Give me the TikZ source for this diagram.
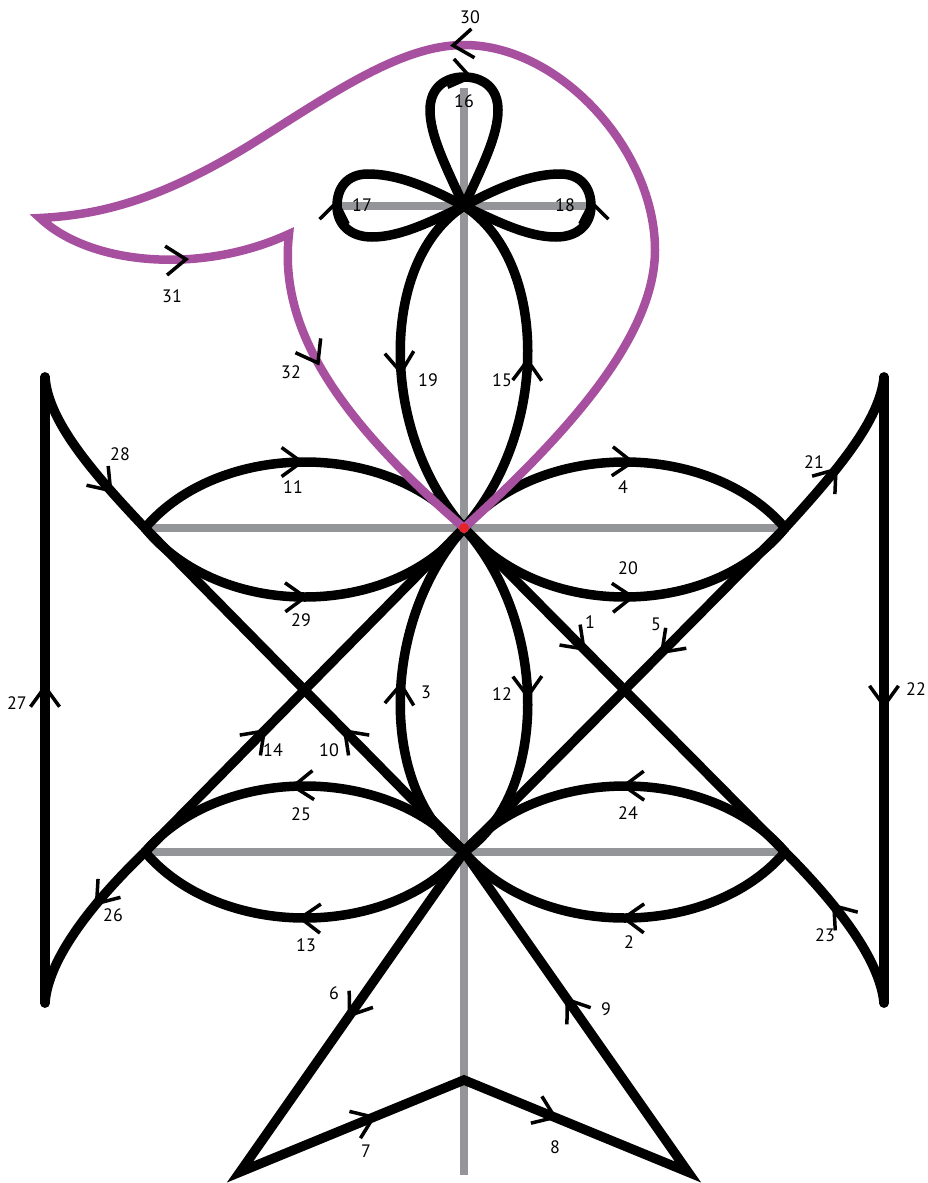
\documentclass[tikz,border=0pt]{standalone}
\usepackage{fontspec}
\setmainfont{PT Sans}
\usetikzlibrary{arrows.meta,decorations.markings}
\definecolor{axisgray}{RGB}{147,149,152}
\definecolor{loopviolet}{RGB}{167,80,160}
\definecolor{dotred}{RGB}{230,35,40}
\tikzset{
    pathline/.style={
        draw,line width=9.5pt,line cap=round,line join=miter
    },
    axisline/.style={
        draw=axisgray,line width=8pt
    },
    violetline/.style={
        draw=loopviolet,line width=8.5pt,line join=miter
    },
    flow/.style={
        postaction={decorate,decoration={markings,mark=at position #1 with {\arrow[black]{>}}}}
    },
    lbl/.style={
        font=\fontsize{18}{20}\selectfont,inner sep=0pt
    }
}

\begin{document}
\begin{tikzpicture}[x=1pt,y=-1pt,>={Straight Barb[length=20pt,width=29pt,line width=3.5pt]}]
\useasboundingbox (0,0) rectangle (928,1183);
% points
\coordinate (c) at (464,528);
\coordinate (b) at (464,852);
\coordinate (t) at (464,206);
\coordinate (l) at (145,528);
\coordinate (r) at (785,528);
\coordinate (ll) at (145,852);
\coordinate (rl) at (785,852);
\coordinate (lbt) at (45,377);
\coordinate (lbb) at (45,1003);
\coordinate (rbt) at (884,377);
\coordinate (rbb) at (884,1003);
\coordinate (btl) at (240,1172);
\coordinate (btr) at (688,1172);
\coordinate (apex) at (464,1080);
\coordinate (k16) at (464,77);
\coordinate (k17) at (337,206);
\coordinate (k18) at (591,206);
\coordinate (ptop) at (464,45);
\coordinate (pright) at (655,250);
\coordinate (ptip) at (40,218);
\coordinate (pcusp) at (289,234);
\coordinate (axtop) at (464,88);
\coordinate (axbot) at (464,1175);
\coordinate (axl) at (335,206);
\coordinate (axr) at (593,206);

% grey axes
\draw[axisline] (axtop) -- (axbot);
\draw[axisline] (axl) -- (axr);
\draw[axisline] (l) -- (r);
\draw[axisline] (ll) -- (rl);

% lenses
\draw[pathline,flow=0.5] (l) .. controls (220,440) and (390,440) .. (c);
\draw[pathline,flow=0.51] (l) .. controls (220,620) and (390,620) .. (c);
\draw[pathline,flow=0.53] (c) .. controls (540,440) and (710,440) .. (r);
\draw[pathline,flow=0.53] (c) .. controls (540,620) and (710,620) .. (r);
\draw[pathline,flow=0.54] (b) .. controls (390,764) and (220,764) .. (ll);
\draw[pathline,flow=0.52] (b) .. controls (390,940) and (220,940) .. (ll);
\draw[pathline,flow=0.51] (rl) .. controls (710,764) and (540,764) .. (b);
\draw[pathline,flow=0.51] (rl) .. controls (710,940) and (540,940) .. (b);
\draw[pathline,flow=0.53] (b) .. controls (380,795) and (378,625) .. (c);
\draw[pathline,flow=0.52] (c) .. controls (550,625) and (548,795) .. (b);
\draw[pathline,flow=0.53] (t) .. controls (380,260) and (378,430) .. (c);
\draw[pathline,flow=0.52] (c) .. controls (550,430) and (548,260) .. (t);

% diagonals
\draw[pathline,flow=0.38] (c) -- (rl);
\draw[pathline,flow=0.39] (r) -- (b);
\draw[pathline,flow=0.38] (b) -- (l);
\draw[pathline,flow=0.38] (ll) -- (c);

% side bars
\draw[pathline,flow=0.74] (lbt) .. controls (48,420) and (90,470) .. (l);
\draw[pathline,flow=0.51] (lbb) -- (lbt);
\draw[pathline,flow=0.4] (ll) .. controls (90,905) and (48,960) .. (lbb);
\draw[pathline,flow=0.44] (r) .. controls (838,470) and (880,420) .. (rbt);
\draw[pathline,flow=0.53] (rbt) -- (rbb);
\draw[pathline,flow=0.62] (rbb) .. controls (880,960) and (838,905) .. (rl);

% clover
\draw[pathline,flow=0.53] (t) .. controls (445,165) and (430,135) .. (430,110) .. controls (430,88) and (445,77) .. (k16) .. controls (483,77) and (498,88) .. (498,110) .. controls (498,135) and (483,165) .. (t);
\draw[pathline,flow=0.52] (t) .. controls (430,222) and (400,237) .. (372,237) .. controls (350,237) and (337,224) .. (k17) .. controls (337,188) and (347,174) .. (368,174) .. controls (395,174) and (425,185) .. (t);
\draw[pathline,flow=0.52] (t) .. controls (498,222) and (528,237) .. (556,237) .. controls (578,237) and (591,224) .. (k18) .. controls (591,188) and (581,174) .. (560,174) .. controls (533,174) and (503,185) .. (t);

% foot
\draw[pathline,line cap=butt,flow=0.16,flow=0.425,flow=0.58,flow=0.86] (b) -- (btl) -- (apex) -- (btr) -- cycle;

% violet loop
\draw[violetline,flow=0.384,flow=0.735,flow=0.874] (c) .. controls (560,440) and (655,340) .. (pright) .. controls (655,150) and (560,45) .. (ptop) .. controls (400,45) and (330,95) .. (250,145) .. controls (160,200) and (100,215) .. (ptip) .. controls (90,265) and (200,275) .. (pcusp) .. controls (278,330) and (340,420) .. cycle;

\node[circle,fill=dotred,inner sep=0pt,minimum size=10pt] (dot) at (c) {};

% labels
\node[lbl] (l30) at (470,17) {30};
\node[lbl] (l16) at (464,101) {16};
\node[lbl] (l17) at (362,205) {17};
\node[lbl] (l18) at (565,205) {18};
\node[lbl] (l31) at (172,296) {31};
\node[lbl] (l32) at (291,372) {32};
\node[lbl] (l19) at (428,380) {19};
\node[lbl] (l15) at (502,380) {15};
\node[lbl] (l28) at (120,454) {28};
\node[lbl] (l11) at (293,487) {11};
\node[lbl] (l4) at (623,487) {4};
\node[lbl] (l21) at (814,462) {21};
\node[lbl] (l20) at (628,568) {20};
\node[lbl] (l29) at (301,620) {29};
\node[lbl] (l1) at (590,622) {1};
\node[lbl] (l5) at (656,624) {5};
\node[lbl] (l27) at (17,703) {27};
\node[lbl] (l3) at (426,692) {3};
\node[lbl] (l12) at (502,694) {12};
\node[lbl] (l22) at (916,689) {22};
\node[lbl] (l14) at (273,750) {14};
\node[lbl] (l10) at (329,750) {10};
\node[lbl] (l25) at (301,814) {25};
\node[lbl] (l24) at (628,813) {24};
\node[lbl] (l26) at (113,915) {26};
\node[lbl] (l13) at (306,945) {13};
\node[lbl] (l2) at (629,942) {2};
\node[lbl] (l23) at (825,935) {23};
\node[lbl] (l6) at (334,993) {6};
\node[lbl] (l9) at (606,1009) {9};
\node[lbl] (l7) at (366,1151) {7};
\node[lbl] (l8) at (555,1147) {8};
\end{tikzpicture}
\end{document}
